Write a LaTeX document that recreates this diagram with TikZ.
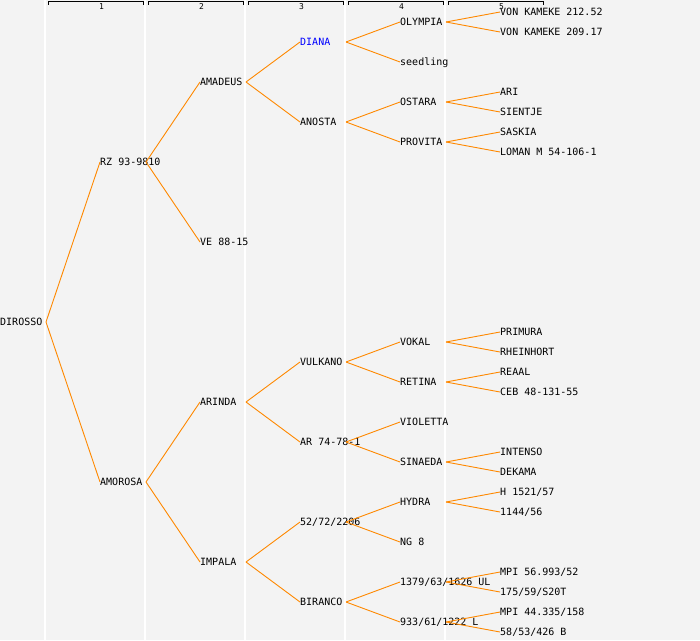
\documentclass[tikz,border=0pt]{standalone}
\usepackage{fontspec}
\setmonofont{DejaVu Sans Mono}
\definecolor{pedline}{RGB}{255,136,0}
\definecolor{pedback}{RGB}{243,243,243}
\definecolor{pedblue}{RGB}{0,0,255}

\begin{document}
\begin{tikzpicture}[x=1pt, y=-1pt,
        horse/.style={anchor=west, inner sep=0pt, text height=7pt, text depth=0pt, font=\fontsize{10}{10}\ttfamily},
        link/.style={pedline, line width=0.9pt}]
        \fill[pedback] (0,0) rectangle (700,640);
        \useasboundingbox (0,0) rectangle (700,640);
        % generation columns
        \foreach \g in {1,...,5} {
            \draw[white, line width=1.3pt] (100*\g-55, 0) -- (100*\g-55, 640);
            \draw[black, line width=0.8pt] (100*\g-52, 4.5) -- (100*\g-52, 1.5) -- (100*\g+43, 1.5) -- (100*\g+43, 4.5);
            \node[inner sep=0pt, font=\fontsize{8}{8}\ttfamily] (gen\g) at (100*\g+1.5, 6.5) {\g};
        }
        % horses
        \node[horse] (dirosso) at (0, 322) {DIROSSO};
        \node[horse] (rz) at (100, 162) {RZ 93-9810};
        \node[horse] (amorosa) at (100, 482) {AMOROSA};
        \node[horse] (amadeus) at (200, 82) {AMADEUS};
        \node[horse] (ve) at (200, 242) {VE 88-15};
        \node[horse] (arinda) at (200, 402) {ARINDA};
        \node[horse] (impala) at (200, 562) {IMPALA};
        \node[horse, pedblue] (diana) at (300, 42) {DIANA};
        \node[horse] (anosta) at (300, 122) {ANOSTA};
        \node[horse] (vulkano) at (300, 362) {VULKANO};
        \node[horse] (ar) at (300, 442) {AR 74-78-1};
        \node[horse] (n52) at (300, 522) {52/72/2206};
        \node[horse] (biranco) at (300, 602) {BIRANCO};
        \node[horse] (olympia) at (400, 22) {OLYMPIA};
        \node[horse] (seedling) at (400, 62) {seedling};
        \node[horse] (ostara) at (400, 102) {OSTARA};
        \node[horse] (provita) at (400, 142) {PROVITA};
        \node[horse] (vokal) at (400, 342) {VOKAL};
        \node[horse] (retina) at (400, 382) {RETINA};
        \node[horse] (violetta) at (400, 422) {VIOLETTA};
        \node[horse] (sinaeda) at (400, 462) {SINAEDA};
        \node[horse] (hydra) at (400, 502) {HYDRA};
        \node[horse] (ng) at (400, 542) {NG 8};
        \node[horse] (ul) at (400, 582) {1379/63/1626 UL};
        \node[horse] (l) at (400, 622) {933/61/1222 L};
        \node[horse] (vk1) at (500, 12) {VON KAMEKE 212.52};
        \node[horse] (vk2) at (500, 32) {VON KAMEKE 209.17};
        \node[horse] (ari) at (500, 92) {ARI};
        \node[horse] (sientje) at (500, 112) {SIENTJE};
        \node[horse] (saskia) at (500, 132) {SASKIA};
        \node[horse] (loman) at (500, 152) {LOMAN M 54-106-1};
        \node[horse] (primura) at (500, 332) {PRIMURA};
        \node[horse] (rheinhort) at (500, 352) {RHEINHORT};
        \node[horse] (reaal) at (500, 372) {REAAL};
        \node[horse] (ceb) at (500, 392) {CEB 48-131-55};
        \node[horse] (intenso) at (500, 452) {INTENSO};
        \node[horse] (dekama) at (500, 472) {DEKAMA};
        \node[horse] (h) at (500, 492) {H 1521/57};
        \node[horse] (n1144) at (500, 512) {1144/56};
        \node[horse] (mpi1) at (500, 572) {MPI 56.993/52};
        \node[horse] (s20t) at (500, 592) {175/59/S20T};
        \node[horse] (mpi2) at (500, 612) {MPI 44.335/158};
        \node[horse] (b) at (500, 632) {58/53/426 B};
        % parent links
        \foreach \from/\to in {dirosso/rz, dirosso/amorosa,
                rz/amadeus, rz/ve, amorosa/arinda, amorosa/impala,
                amadeus/diana, amadeus/anosta, arinda/vulkano, arinda/ar,
                impala/n52, impala/biranco,
                diana/olympia, diana/seedling, anosta/ostara, anosta/provita,
                vulkano/vokal, vulkano/retina, ar/violetta, ar/sinaeda,
                n52/hydra, n52/ng, biranco/ul, biranco/l,
                olympia/vk1, olympia/vk2, ostara/ari, ostara/sientje,
                provita/saskia, provita/loman, vokal/primura, vokal/rheinhort,
                retina/reaal, retina/ceb, sinaeda/intenso, sinaeda/dekama,
                hydra/h, hydra/n1144, ul/mpi1, ul/s20t, l/mpi2, l/b} {
            \draw[link] (\from.west) ++(46,0) -- (\to.west);
        }
    \end{tikzpicture}
\end{document}
